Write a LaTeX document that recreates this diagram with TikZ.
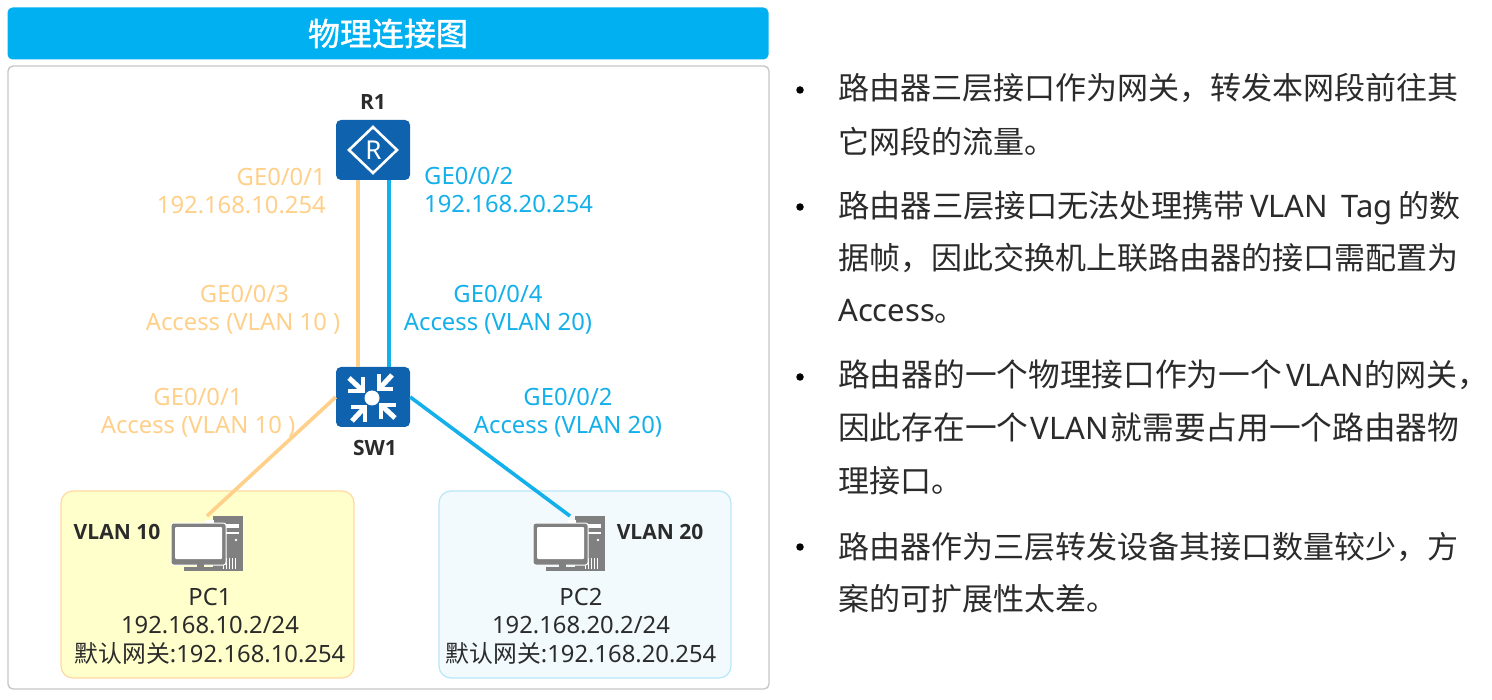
\documentclass[tikz,border=0pt]{standalone}
\usepackage{fontspec}
\setmainfont{Noto Sans}
\newfontfamily\zhf{Noto Sans CJK SC}
\newfontfamily\zht[FakeBold=1.2]{Noto Sans CJK SC}
\newfontfamily\tagf{Open Sans}
\definecolor{titleblue}{HTML}{00B0F0}
\definecolor{devblue}{HTML}{0F62AE}
\definecolor{linkor}{HTML}{FFD08A}
\definecolor{linkbl}{HTML}{14B0EA}
\definecolor{ink}{HTML}{2B2B2B}
\definecolor{pcgray}{HTML}{808080}
\definecolor{zoney}{HTML}{FFFFCC}
\definecolor{zoneb}{HTML}{F2FAFE}
\newcommand{\szA}{\fontsize{31.3}{36}\selectfont}
\newcommand{\szB}{\fontsize{31.7}{36}\selectfont}
\tikzset{
  panel/.style={draw=black!22,line width=1.4pt,rounded corners=5pt,fill=white},
  titlebar/.style={fill=titleblue,rounded corners=5pt},
  device/.style={fill=devblue,rounded corners=5pt,minimum width=74pt,minimum height=60pt,inner sep=0pt},
  link/.style={line width=3.6pt},
  lab/.style={inner sep=0pt,font=\fontsize{23.8}{28.5}\selectfont},
  orlab/.style={lab,text=linkor},
  bllab/.style={lab,text=linkbl},
  pclab/.style={lab,text=ink,align=center},
  tag/.style={inner sep=0pt,text=ink,font=\tagf\fontsize{21}{25}\selectfont\bfseries},
  bul/.style={anchor=base west,inner sep=0pt,text=ink,font=\fontsize{31}{36}\selectfont},
  dot/.style={circle,fill=black,inner sep=0pt,minimum size=7.5pt},
  pcbox/.style={inner sep=0pt,minimum width=72pt,minimum height=55pt},
  pcicon/.pic={
    \fill[pcgray] (6,-28) rectangle (36,27);
    \fill[white] (17,-20) rectangle (32,-16);
    \fill[white] (17,-12) rectangle (32,-10);
    \fill[white] (29,-4) circle (1.3);
    \foreach \xx in {16,19,22,25,28}{\fill[white] (\xx,14) rectangle (\xx+1.2,25);}
    \fill[white] (-1,-24) rectangle (7,-19);
    \fill[pcgray,draw=white,line width=1pt,rounded corners=2.5pt] (-36,-21) rectangle (19,21);
    \fill[white,rounded corners=1pt] (-32,-17) rectangle (15,15);
    \fill[pcgray] (-10,20) rectangle (-3,24);
    \fill[pcgray] (-23,23) rectangle (7,27);
  },
  swarrow/.pic={
    \draw[white,line width=5pt] (-23,-20) -- (-9,-7);
    \draw[white,line width=4.6pt] (-9,-21) -- (-9,-7) -- (-24,-7);
  }
}
\begin{document}
\begin{tikzpicture}[x=1pt,y=-1pt]
\useasboundingbox (0,0) rectangle (1492,700);
\fill[white] (0,0) rectangle (1492,700);
\node[titlebar,minimum width=761pt,minimum height=52pt,inner sep=0pt,text=white,font=\zht\fontsize{32}{36}\selectfont] (title) at (388,33.5) {物理连接图};
\node[panel,minimum width=761pt,minimum height=623pt,inner sep=0pt] (frame) at (388.5,377.5) {};

\node[fill=zoney,draw=linkor!80,line width=1.2pt,rounded corners=12pt,minimum width=293pt,minimum height=187pt,inner sep=0pt] (zone10) at (207.5,584.5) {};
\node[fill=zoneb,draw=linkbl!30,line width=1.2pt,rounded corners=12pt,minimum width=292pt,minimum height=187pt,inner sep=0pt] (zone20) at (585,584.5) {};

\node[device] (r1) at (373,150) {};
\node[device] (sw1) at (373,397) {};
\node[pcbox] (pc1) at (207,544) {};
\node[pcbox] (pc2) at (569,544) {};
\coordinate (p1) at (207,516);
\coordinate (p2) at (570,516);

\draw[link,linkor] ([xshift=-15pt]r1.south) -- ([xshift=-15pt]sw1.north);
\draw[link,linkbl] ([xshift=16pt]r1.south) -- ([xshift=16pt]sw1.north);
\draw[link,linkor] (sw1.west) -- (p1);
\draw[link,linkbl] (sw1.east) -- (p2);

% router icon
\draw[white,line width=2.6pt,line join=miter] (373,127) -- (397,150) -- (373,173) -- (349,150) -- cycle;
\node[inner sep=0pt,text=white,font=\fontsize{26}{30}\selectfont] (rlet) at (373.5,150) {R};
% switch icon
\fill[white] (372,398) circle (7.5);
\pic at (372,398) {swarrow};
\pic[rotate=90] at (372,398) {swarrow};
\pic[rotate=180] at (372,398) {swarrow};
\pic[rotate=270] at (372,398) {swarrow};
% PCs
\pic at (207,544) {pcicon};
\pic at (569,544) {pcicon};

\node[tag] (r1l) at (373,102) {R1};
\node[tag] (sw1l) at (375,448) {SW1};
\node[tag] (v10) at (117,532) {VLAN 10};
\node[tag] (v20) at (660,532) {VLAN 20};

\node[orlab,align=right,anchor=east] (a1) at (326,191) {GE0/0/1\hspace{3pt}\\192.168.10.254};
\node[bllab,align=left,anchor=west] (a2) at (424,190) {GE0/0/2\\192.168.20.254};
\node[orlab,align=center] (a3) at (243,310) {\hspace{3pt}GE0/0/3\\Access (VLAN 10 )};
\node[bllab,align=center] (a4) at (498,310) {GE0/0/4\\Access (VLAN 20)};
\node[orlab,align=center] (a5) at (198,413) {GE0/0/1\\Access (VLAN 10 )};
\node[bllab,align=center] (a6) at (568,413) {GE0/0/2\\Access (VLAN 20)};

\node[pclab] (t1) at (210,626) {PC1\\192.168.10.2/24\\{\zhf 默认网关}:192.168.10.254};
\node[pclab] (t2) at (581,626) {PC2\\192.168.20.2/24\\{\zhf 默认网关}:192.168.20.254};

\node[dot] (d1) at (800,90) {};
\node[bul] (l1) at (838,100) {\zhf 路由器三层接口作为网关，转发本网段前往其};
\node[bul] (l2) at (838,154) {\zhf 它网段的流量。};
\node[dot] (d2) at (800,207) {};
\node[bul] (l3) at (838,218) {{\zhf\szA 路由器三层接口无法处理携带}\hspace{5pt}VLAN\hspace{13pt}Tag\hspace{6pt}{\zhf 的数}};
\node[bul] (l4) at (838,270) {\zhf 据帧，因此交换机上联路由器的接口需配置为};
\node[bul] (l5) at (838,322) {Access{\zhf 。}};
\node[dot] (d3) at (800,377) {};
\node[bul] (l6) at (838,387) {{\zhf\szB 路由器的一个物理接口作为一个}\hspace{4pt}VLAN{\zhf 的网关，}};
\node[bul] (l7) at (838,440) {{\zhf\szB 因此存在一个}\hspace{2pt}VLAN\hspace{2pt}{\zhf\szB 就需要占用一个路由器物}};
\node[bul] (l8) at (838,493) {\zhf 理接口。};
\node[dot] (d4) at (800,547) {};
\node[bul] (l9) at (838,558) {\zhf 路由器作为三层转发设备其接口数量较少，方};
\node[bul] (l10) at (838,610) {\zhf 案的可扩展性太差。};
\end{tikzpicture}
\end{document}
